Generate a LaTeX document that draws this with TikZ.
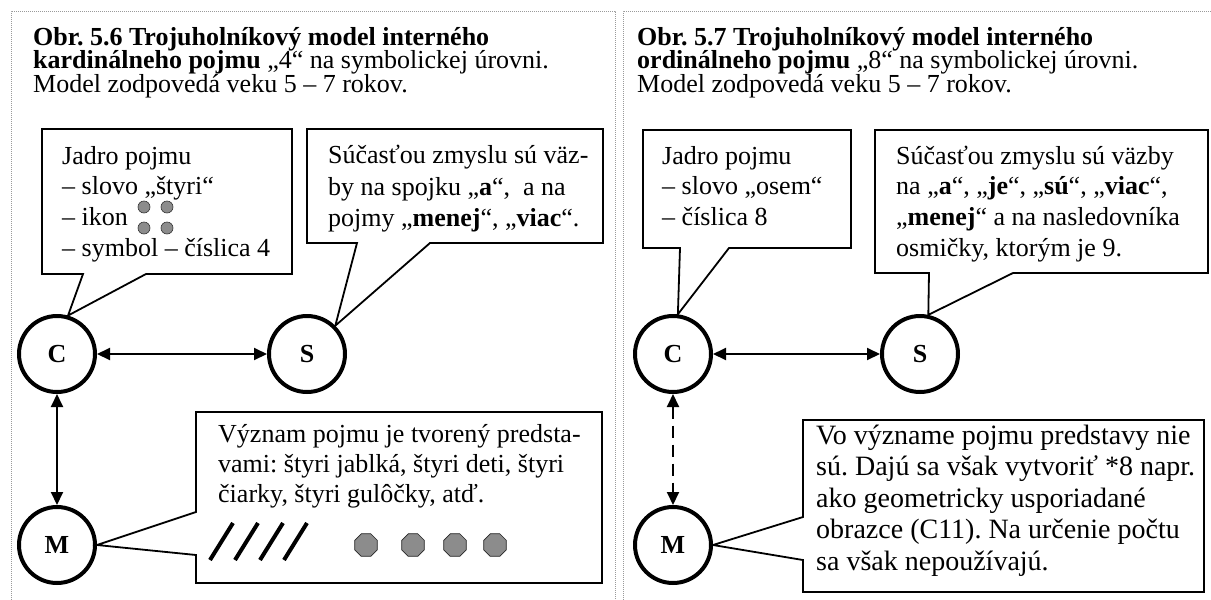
\documentclass[tikz,border=0pt]{standalone}
\usepackage{fontspec}
\setmainfont{Liberation Serif}
\usetikzlibrary{arrows.meta,shapes.geometric}
\definecolor{icongray}{HTML}{8C8C8C}
\definecolor{framegray}{HTML}{9A9A9A}
\frenchspacing
% a block of lines with a fixed baseline distance; its base is the first baseline
\newcommand\linestack[3]{\vtop{\fontsize{#1}{#2}\selectfont\lineskiplimit=-\maxdimen\lineskip=0pt #3}}
\begin{document}
\begin{tikzpicture}[x=1pt,y=-1pt,
  frame/.style={framegray,line width=0.9pt,dash pattern=on 1pt off 1pt},
  concept/.style={circle,draw,line width=4pt,minimum size=76pt,inner sep=0pt,
    font=\fontsize{26}{26}\selectfont\bfseries},
  link/.style={{Triangle[length=13pt,width=12pt]}-{Triangle[length=13pt,width=12pt]},line width=2pt},
  bubble/.style={draw,line width=1.8pt,line join=miter},
  txt/.style={anchor=base west,inner sep=0pt},
  dot/.style={circle,draw=black!80,fill=icongray,line width=0.6pt,minimum size=12pt,inner sep=0pt},
  octa/.style={regular polygon,regular polygon sides=8,draw=black!85,fill=icongray,
    line width=0.7pt,minimum size=24.5pt,inner sep=0pt},
  slash/.style={line width=4pt}]
\useasboundingbox (0,0) rectangle (1211,600);

% dotted frames of the two panels
\draw[frame] (11,600) -- (11,11) -- (615,11) -- (615,600);
\draw[frame] (623,600) -- (623,11) -- (1211,11);

% ---------------- left panel: cardinal concept "4" ----------------
\node[txt] (titleL) at (33,45) {\linestack{26}{23.8}{%
  \hbox{\bfseries Obr. 5.6 Trojuholníkový model interného}%
  \hbox{\textbf{kardinálneho pojmu} „4“ na symbolickej úrovni.}%
  \hbox{Model zodpovedá veku 5 – 7 rokov.}}};

\node[concept] (C1) at (57,354) {C};
\node[concept] (S1) at (307,354) {S};
\node[concept] (M1) at (57,545) {M};
\draw[link] (C1) -- (S1);
\draw[link] (C1) -- (M1);

% core of the concept
\draw[bubble] (83,274) -- (42,274) -- (42,129) -- (292,129) -- (292,274) -- (146,274) -- (C1.74) -- cycle;
\node[txt] (coreL) at (62,164) {\linestack{26}{30.7}{%
  \hbox{Jadro pojmu}%
  \hbox{– slovo „štyri“}%
  \hbox{– ikon}%
  \hbox{– symbol – číslica 4}}};
\node[dot] (d1) at (144,207) {};
\node[dot] (d2) at (167,207) {};
\node[dot] (d3) at (144,228) {};
\node[dot] (d4) at (167,228) {};

% sense of the concept
\draw[bubble] (357,243) -- (307,243) -- (307,129) -- (603,129) -- (603,243) -- (430,243) -- (S1.45) -- cycle;
\node[txt] (senseL) at (328,163.5) {\linestack{26}{31.5}{%
  \hbox{Súčasťou zmyslu sú väz-}%
  \hbox{by na spojku „\textbf{a}“,\ \ a na}%
  \hbox{pojmy „\textbf{menej}“, „\textbf{viac}“.}}};

% meaning of the concept
\draw[bubble] (196,512) -- (196,412) -- (602,412) -- (602,583) -- (196,583) -- (196,555) -- (M1.east) -- cycle;
\node[txt] (meanL) at (218,442) {\linestack{26}{30}{%
  \hbox{Význam pojmu je tvorený predsta-}%
  \hbox{vami: štyri jablká, štyri deti, štyri}%
  \hbox{čiarky, štyri gulôčky, atď.}}};
\draw[slash] (210,560) -- (233,523);
\draw[slash] (235,560) -- (258,523);
\draw[slash] (260,560) -- (283,523);
\draw[slash] (284,560) -- (307,523);
\node[octa] (o1) at (366,545) {};
\node[octa] (o2) at (413,545) {};
\node[octa] (o3) at (455,545) {};
\node[octa] (o4) at (495,545) {};

% ---------------- right panel: ordinal concept "8" ----------------
\node[txt] (titleR) at (637,45) {\linestack{26}{23.8}{%
  \hbox{\bfseries Obr. 5.7 Trojuholníkový model interného}%
  \hbox{\textbf{ordinálneho pojmu} „8“ na symbolickej úrovni.}%
  \hbox{Model zodpovedá veku 5 – 7 rokov.}}};

\node[concept] (C2) at (673,354) {C};
\node[concept] (S2) at (920,354) {S};
\node[concept] (M2) at (673,545) {M};
\draw[link] (C2) -- (S2);
\draw[link,dash pattern=on 12pt off 7pt] (C2) -- (M2);

\draw[bubble] (680,248) -- (643,248) -- (643,130) -- (851,130) -- (851,248) -- (729,248) -- (C2.83) -- cycle;
\node[txt] (coreR) at (662,164) {\linestack{26}{30.7}{%
  \hbox{Jadro pojmu}%
  \hbox{– slovo „osem“}%
  \hbox{– číslica 8}}};

\draw[bubble] (929,273) -- (875,273) -- (875,130) -- (1208,130) -- (1208,273) -- (1013,273) -- (S2.78) -- cycle;
\node[txt] (senseR) at (896,164) {\linestack{26}{30.7}{%
  \hbox{Súčasťou zmyslu sú väzby}%
  \hbox{na „\textbf{a}“, „\textbf{je}“, „\textbf{sú}“, „\textbf{viac}“,}%
  \hbox{„\textbf{menej}“ a na nasledovníka}%
  \hbox{osmičky, ktorým je 9.}}};

\draw[bubble] (803,517) -- (803,420) -- (1204,420) -- (1204,592) -- (803,592) -- (803,560) -- (M2.east) -- cycle;
\node[txt] (meanR) at (816,444) {\linestack{28}{31.5}{%
  \hbox{Vo význame pojmu predstavy nie}%
  \hbox{sú. Dajú sa však vytvoriť *8 napr.}%
  \hbox{ako geometricky usporiadané}%
  \hbox{obrazce (C11). Na určenie počtu}%
  \hbox{sa však nepoužívajú.}}};
\end{tikzpicture}
\end{document}
